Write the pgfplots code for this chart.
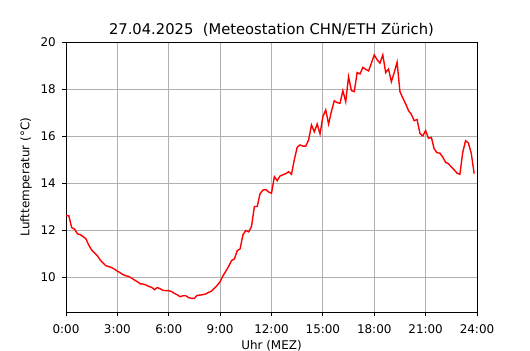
\documentclass[border=0pt]{standalone}
\usepackage{fontspec}
\setmainfont{DejaVu Sans}
\usepackage{pgfplots}
\pgfplotsset{compat=1.18}
\usepackage{pgfplotstable}
\pgfplotstableread{
t T
0 12.62
10 12.60
20 12.10
30 12.04
40 11.84
50 11.80
60 11.72
70 11.62
80 11.35
90 11.15
100 11.02
110 10.90
120 10.72
130 10.60
140 10.48
150 10.44
160 10.40
170 10.33
180 10.25
190 10.18
200 10.10
210 10.05
220 10.02
230 9.95
240 9.87
250 9.80
260 9.71
270 9.70
280 9.66
290 9.60
300 9.56
310 9.46
320 9.55
330 9.50
340 9.43
350 9.42
360 9.42
370 9.38
380 9.30
390 9.24
400 9.16
410 9.20
420 9.20
430 9.12
440 9.09
450 9.09
460 9.22
470 9.23
480 9.25
490 9.28
500 9.35
510 9.40
520 9.52
530 9.65
540 9.80
550 10.05
560 10.25
570 10.45
580 10.70
590 10.77
600 11.12
610 11.20
620 11.80
630 11.98
640 11.92
650 12.15
660 13.00
670 13.00
680 13.55
690 13.70
700 13.72
710 13.62
720 13.56
730 14.27
740 14.10
750 14.30
760 14.35
770 14.40
780 14.48
790 14.37
800 15.00
810 15.52
820 15.62
830 15.57
840 15.57
850 15.83
860 16.47
870 16.18
880 16.51
890 16.09
900 16.82
910 17.11
920 16.51
930 17.05
940 17.50
950 17.42
960 17.39
970 17.93
980 17.46
990 18.52
1000 17.93
1010 17.89
1020 18.70
1030 18.64
1040 18.92
1050 18.84
1060 18.77
1070 19.10
1080 19.45
1090 19.25
1100 19.10
1110 19.45
1120 18.70
1130 18.85
1140 18.31
1150 18.70
1160 19.14
1170 17.89
1180 17.62
1190 17.37
1200 17.08
1210 16.92
1220 16.65
1230 16.70
1240 16.11
1250 16.00
1260 16.23
1270 15.90
1280 15.94
1290 15.45
1300 15.29
1310 15.27
1320 15.10
1330 14.88
1340 14.82
1350 14.68
1360 14.56
1370 14.42
1380 14.37
1390 15.30
1400 15.80
1410 15.70
1420 15.25
1430 14.40
}\temps
\begin{document}
\begin{tikzpicture}
\begin{axis}[
  scale only axis,
  width=411bp, height=270bp,
  xmin=0, xmax=1440, ymin=8.51, ymax=20,
  xtick={0,180,360,540,720,900,1080,1260,1440},
  xticklabels={0:00,3:00,6:00,9:00,12:00,15:00,18:00,21:00,24:00},
  ytick={10,12,14,16,18,20},
  grid=major,
  major grid style={color=black!31, line width=0.8bp},
  tick align=outside,
  tick pos=left,
  major tick length=4bp,
  tick style={black, line width=0.8bp},
  axis line style={line width=0.8bp},
  /pgf/number format/assume math mode=true,
  ticklabel style={font=\fontsize{12}{14}\selectfont},
  xticklabel style={anchor=north, inner sep=0pt, yshift=-8bp},
  yticklabel style={anchor=east, inner sep=0pt, xshift=-6bp},
  title={27.04.2025\ \ (Meteostation CHN/ETH Zürich)},
  title style={font=\fontsize{14.8}{17}\selectfont, at={(axis description cs:0.5,1)}, anchor=south, inner sep=0pt, yshift=-1bp},
  xlabel={Uhr (MEZ)},
  xlabel style={font=\fontsize{12}{14}\selectfont, at={(axis description cs:0.5,0)}, anchor=north, inner sep=0pt, yshift=-28bp},
  ylabel={Lufttemperatur (°C)},
  ylabel style={font=\fontsize{12}{14}\selectfont, at={(axis description cs:-0.0827,0.5)}, anchor=south, inner sep=0pt},
]
\addplot[color=red, line width=1.4bp, mark=none] table[x=t, y=T] {\temps};
\end{axis}
\path (-66bp,-38bp) rectangle (464bp,312bp);
\end{tikzpicture}
\end{document}
